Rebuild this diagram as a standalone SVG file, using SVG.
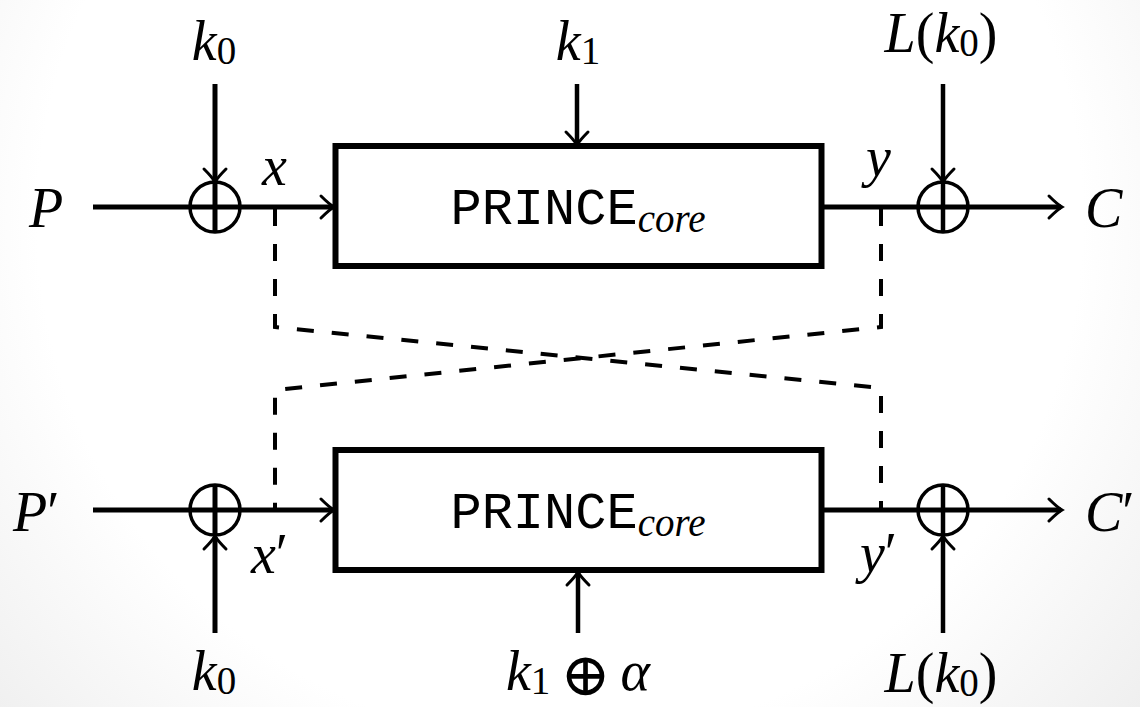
<svg xmlns="http://www.w3.org/2000/svg" width="1140" height="707" viewBox="0 0 1140 707">
<style>
.ln{stroke:#000;fill:none;stroke-linecap:butt}
.main{stroke-width:5}
.key{stroke-width:4.5}
.dash{stroke-width:4;stroke-dasharray:17 18}
.box{fill:#fff;stroke:#000;stroke-width:6}
.xc{fill:none;stroke:#000;stroke-width:3.5}
.m{font-family:"Liberation Serif","DejaVu Serif",serif;font-style:italic;font-size:56px;fill:#000}
.r{font-style:normal}
.op{font-family:"DejaVu Serif",serif;font-style:normal;font-weight:normal;font-size:60px}
.sub{font-size:39px;font-style:normal}
.tt{font-family:"Liberation Mono","DejaVu Sans Mono",monospace;font-size:52px;fill:#000}
.cs{font-family:"Liberation Serif",serif;font-style:italic;font-size:39px}
</style>
<defs>
<radialGradient id="bg" cx="560" cy="220" r="950" gradientUnits="userSpaceOnUse">
<stop offset="0" stop-color="#ffffff"/>
<stop offset="0.55" stop-color="#ffffff"/>
<stop offset="1" stop-color="#e2e2e2"/>
</radialGradient>
<marker id="ar" viewBox="-16 -14 20 28" refX="0" refY="0" markerWidth="20" markerHeight="28" markerUnits="userSpaceOnUse" orient="auto">
<path d="M -12 -11 Q -4 -3 1 0 Q -4 3 -12 11" fill="none" stroke="#000" stroke-width="3" stroke-linecap="round"/>
</marker>
</defs>
<rect width="1140" height="707" fill="url(#bg)"/>

<g id="connectors">
<line class="ln main" x1="93" y1="207" x2="333" y2="207" marker-end="url(#ar)"/>
<line class="ln main" x1="824" y1="207" x2="1061" y2="207" marker-end="url(#ar)"/>
<line class="ln main" x1="93" y1="510" x2="333" y2="510" marker-end="url(#ar)"/>
<line class="ln main" x1="824" y1="510" x2="1061" y2="510" marker-end="url(#ar)"/>
<line class="ln main" x1="215" y1="84" x2="215" y2="181" marker-end="url(#ar)"/>
<line class="ln key" x1="943" y1="84" x2="943" y2="181" marker-end="url(#ar)"/>
<line class="ln key" x1="577" y1="84" x2="577" y2="144" marker-end="url(#ar)"/>
<line class="ln main" x1="215" y1="633" x2="215" y2="537" marker-end="url(#ar)"/>
<line class="ln key" x1="943" y1="633" x2="943" y2="537" marker-end="url(#ar)"/>
<line class="ln key" x1="578" y1="633" x2="578" y2="573" marker-end="url(#ar)"/>
<polyline class="ln dash" points="275,209 275,327 881,388 881,510"/>
<polyline class="ln dash" points="881,209 881,327 275,390 275,510"/>
</g>

<g id="xor-top-left">
<circle class="xc" cx="215" cy="207" r="25"/>
<line class="ln main" x1="215" y1="182" x2="215" y2="232"/>
</g>
<g id="xor-top-right">
<circle class="xc" cx="943" cy="207" r="25"/>
<line class="ln key" x1="943" y1="182" x2="943" y2="232"/>
</g>
<g id="xor-bottom-left">
<circle class="xc" cx="215" cy="510" r="25"/>
<line class="ln main" x1="215" y1="485" x2="215" y2="535"/>
</g>
<g id="xor-bottom-right">
<circle class="xc" cx="943" cy="510" r="25"/>
<line class="ln key" x1="943" y1="485" x2="943" y2="535"/>
</g>

<g id="prince-top">
<rect class="box" x="335.5" y="146" width="486" height="120"/>
<text class="tt" x="578" y="224" text-anchor="middle">PRINCE<tspan class="cs" dy="8">core</tspan></text>
</g>
<g id="prince-bottom">
<rect class="box" x="335.5" y="450" width="486" height="120"/>
<text class="tt" x="578" y="528" text-anchor="middle">PRINCE<tspan class="cs" dy="8">core</tspan></text>
</g>

<g id="labels">
<text class="m" x="214" y="60" text-anchor="middle">k<tspan class="sub" dy="4">0</tspan></text>
<text class="m" x="578" y="60" text-anchor="middle">k<tspan class="sub" dy="4">1</tspan></text>
<text class="m" x="941" y="52" text-anchor="middle">L<tspan class="r">(</tspan>k<tspan class="sub" dy="4">0</tspan><tspan class="r" dy="-4">)</tspan></text>
<text class="m" x="29" y="227">P</text>
<text class="m" x="262" y="185">x</text>
<text class="m" x="866" y="176">y</text>
<text class="m" x="1085" y="227">C</text>
<text class="m" x="13" y="531">P<tspan class="r">′</tspan></text>
<text class="m" x="251" y="573">x<tspan class="r">′</tspan></text>
<text class="m" x="860" y="572">y<tspan class="r">′</tspan></text>
<text class="m" x="1085" y="531">C<tspan class="r">′</tspan></text>
<text class="m" x="214" y="690" text-anchor="middle">k<tspan class="sub" dy="4">0</tspan></text>
<text class="m" x="578" y="690" text-anchor="middle">k<tspan class="sub" dy="4">1</tspan><tspan class="op" dx="10" dy="1">⊕</tspan><tspan dx="10" dy="-5">α</tspan></text>
<text class="m" x="941" y="692" text-anchor="middle">L<tspan class="r">(</tspan>k<tspan class="sub" dy="4">0</tspan><tspan class="r" dy="-4">)</tspan></text>
</g>
</svg>
